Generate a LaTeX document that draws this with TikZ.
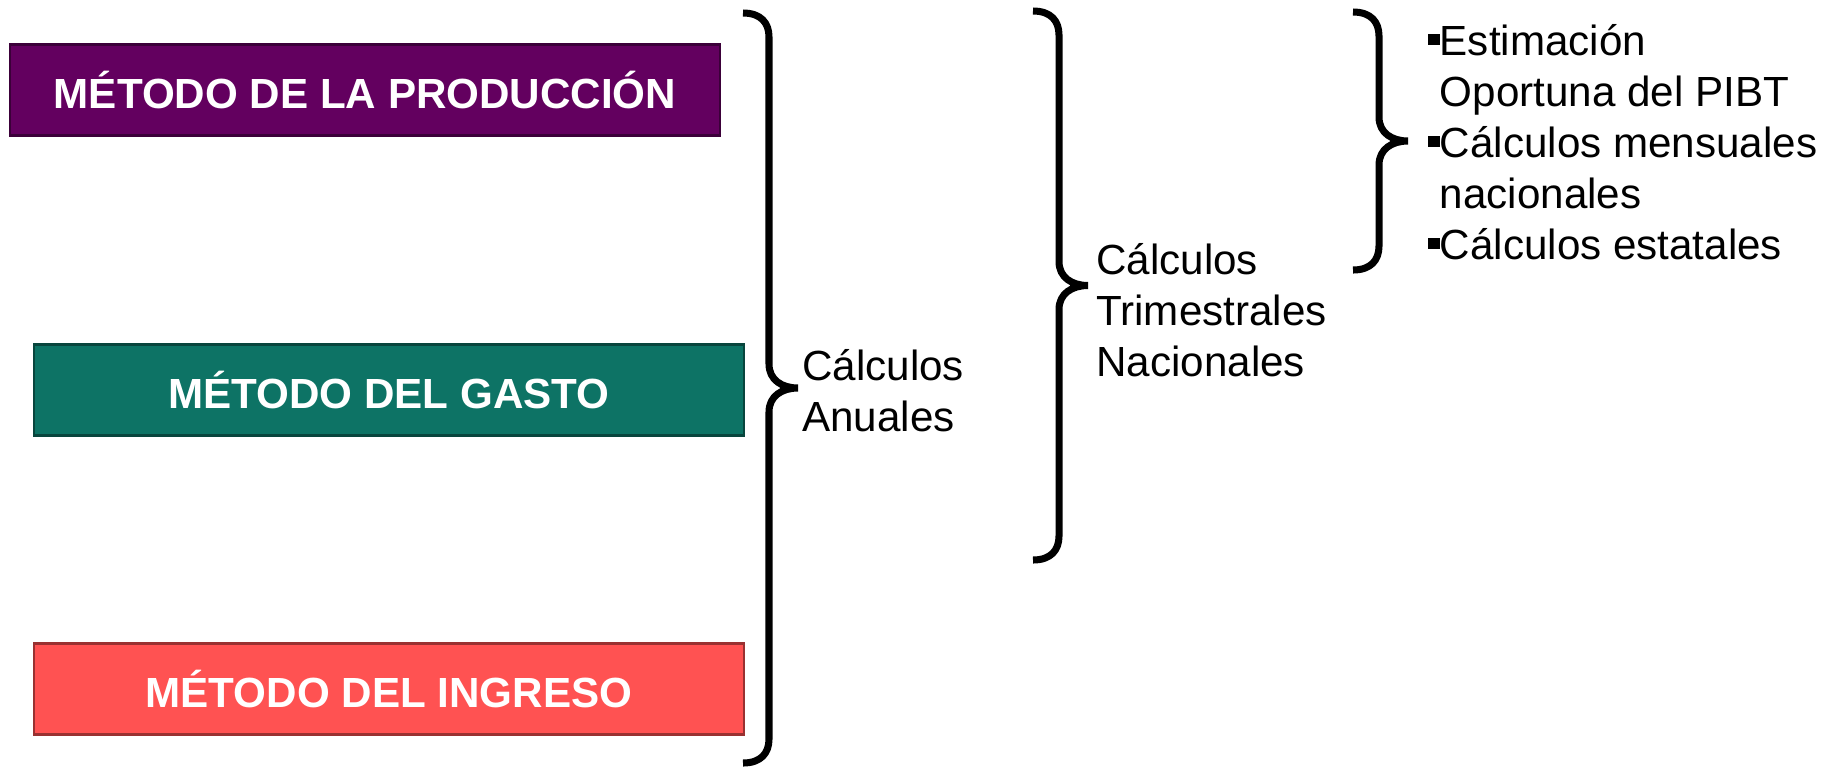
\documentclass[tikz,border=0pt]{standalone}
\usepackage{fontspec}
\setmainfont{Liberation Sans}
\usetikzlibrary{calc}

\definecolor{prodcol}{RGB}{99,0,95}
\definecolor{gastocol}{RGB}{13,115,101}
\definecolor{ingrcol}{RGB}{255,82,82}

\newcommand{\sqbullet}{\rule[0.2cm]{0.23cm}{0.23cm}}

\begin{document}
\begin{tikzpicture}[x=0.02cm,y=-0.02cm,
  metodo/.style={minimum width=14.2cm,minimum height=1.82cm,inner sep=0pt,
    text=white,line width=1.2pt,font=\fontsize{24}{29}\selectfont\bfseries},
  rbrace/.style={line width=4pt,to path={
    (\tikztostart) .. controls +(18,0) and +(0,-14) .. ($(\tikztostart)+(26,24)$)
    -- ($(\tikztostart)!0.5!(\tikztotarget)+(26,-24)$)
    .. controls +(0,16) and +(-16,0) .. ($(\tikztostart)!0.5!(\tikztotarget)+(55,0)$)
    .. controls +(-16,0) and +(0,-16) .. ($(\tikztostart)!0.5!(\tikztotarget)+(26,24)$)
    -- ($(\tikztotarget)+(26,-24)$)
    .. controls +(0,14) and +(18,0) .. (\tikztotarget)}},
  calc/.style={align=left,inner sep=0pt,font=\fontsize{24}{29}\selectfont}]
\useasboundingbox (0,0) rectangle (1841,769);

% los tres metodos
\node[metodo,fill=prodcol,draw=prodcol!60!black] (prod) at (365,90) {MÉTODO DE LA PRODUCCIÓN};
\node[metodo,fill=gastocol,draw=gastocol!60!black] (gasto) at (389,390) {MÉTODO DEL GASTO};
\node[metodo,fill=ingrcol,draw=ingrcol!60!black] (ingr) at (389,689) {MÉTODO DEL INGRESO};

% calculos anuales
\coordinate (anutop) at (743,13);
\coordinate (anubot) at (743,763);
\draw[rbrace] (anutop) to (anubot);
\node[calc,anchor=west] (anuales) at (802,391) {Cálculos\\Anuales};

% calculos trimestrales
\coordinate (tritop) at (1033,11);
\coordinate (tribot) at (1033,560);
\draw[rbrace] (tritop) to (tribot);
\node[calc,anchor=west] (trim) at (1096,310) {Cálculos\\Trimestrales\\Nacionales};

% otros calculos
\coordinate (otrtop) at (1353,12);
\coordinate (otrbot) at (1353,270);
\draw[rbrace] (otrtop) to (otrbot);
\node[calc,anchor=west] (otros) at (1428,142) {\sqbullet Estimación\\
  \hphantom{\sqbullet}Oportuna del PIBT\\
  \sqbullet Cálculos mensuales\\
  \hphantom{\sqbullet}nacionales\\
  \sqbullet Cálculos estatales};
\end{tikzpicture}
\end{document}
